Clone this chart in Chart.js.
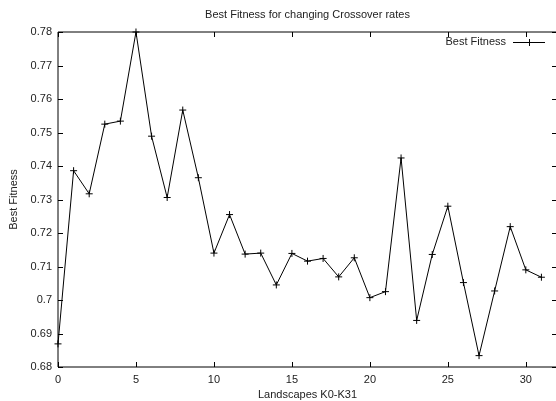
<!DOCTYPE html>
<html><head><meta charset="utf-8">
<script src="https://cdn.jsdelivr.net/npm/chart.js@4/dist/chart.umd.min.js"></script>
<style>html,body{margin:0;padding:0;overflow:hidden;background:#fff;width:556px;height:401px}canvas{display:block}</style>
</head><body>
<canvas id="c" width="562" height="401"></canvas>
<script>
const TITLE = 'Best Fitness for changing Crossover rates';
const X_TITLE = 'Landscapes K0-K31';
const Y_TITLE = 'Best Fitness';
const SERIES_NAME = 'Best Fitness';
const landscapes = [0,1,2,3,4,5,6,7,8,9,10,11,12,13,14,15,16,17,18,19,20,21,22,23,24,25,26,27,28,29,30,31];
const bestFitness = [0.6869,0.7386,0.7317,0.7525,0.7534,0.7800,0.7489,0.7306,0.7567,0.7365,
                     0.7140,0.7255,0.7137,0.7140,0.7045,0.7139,0.7116,0.7124,0.7069,0.7126,
                     0.7007,0.7025,0.7424,0.6939,0.7136,0.7280,0.7052,0.6834,0.7027,0.7219,
                     0.7090,0.7068];
const xTicks = [0,5,10,15,20,25,30];
const yTicks = [0.68,0.69,0.70,0.71,0.72,0.73,0.74,0.75,0.76,0.77,0.78];

const FONT = "'Liberation Sans', Arial, sans-serif";
const TEXT = '#222';

const gnuplotDecor = {
  id: 'gnuplotDecor',
  afterDraw(chart) {
    const ctx = chart.ctx, a = chart.chartArea;
    const xs = chart.scales.x, ys = chart.scales.y;
    ctx.save();
    ctx.strokeStyle = '#000';
    ctx.lineWidth = 1;
    const T = 5;
    ctx.beginPath();
    // frame
    ctx.rect(a.left, a.top, a.right - a.left, a.bottom - a.top);
    xTicks.forEach(v => {
      const p = Math.round(xs.getPixelForValue(v)) + 0.5;
      ctx.moveTo(p, a.bottom); ctx.lineTo(p, a.bottom - T);
      ctx.moveTo(p, a.top); ctx.lineTo(p, a.top + T);
    });
    yTicks.forEach(v => {
      const p = Math.round(ys.getPixelForValue(v)) + 0.5;
      ctx.moveTo(a.left, p); ctx.lineTo(a.left + T, p);
      ctx.moveTo(a.right, p); ctx.lineTo(a.right - T, p);
    });
    ctx.stroke();
    // texts
    ctx.fillStyle = TEXT;
    ctx.font = '11px ' + FONT;
    ctx.textAlign = 'center';
    ctx.textBaseline = 'middle';
    const cx = (a.left + a.right) / 2;
    ctx.fillText(TITLE, cx, 15);
    ctx.fillText(X_TITLE, cx, 395);
    ctx.save();
    ctx.translate(14, (a.top + a.bottom) / 2);
    ctx.rotate(-Math.PI / 2);
    ctx.fillText(Y_TITLE, 0, 0);
    ctx.restore();
    // legend
    ctx.textAlign = 'right';
    ctx.fillText(SERIES_NAME, 506, 42);
    ctx.beginPath();
    ctx.moveTo(513, 42.5); ctx.lineTo(545, 42.5);
    ctx.moveTo(526, 42.5); ctx.lineTo(532, 42.5);
    ctx.moveTo(529.5, 39); ctx.lineTo(529.5, 46);
    ctx.stroke();
    ctx.restore();
  }
};

new Chart(document.getElementById('c'), {
  type: 'line',
  data: {
    datasets: [{
      label: SERIES_NAME,
      data: landscapes.map((x, i) => ({x: x, y: bestFitness[i]})),
      borderColor: '#000',
      backgroundColor: '#000',
      borderWidth: 1,
      pointStyle: 'cross',
      pointRadius: 3.5,
      pointBorderWidth: 1,
      pointBorderColor: '#000',
      tension: 0,
      clip: false
    }]
  },
  options: {
    responsive: false,
    animation: false,
    events: [],
    layout: { padding: { top: 32, right: 4, left: 0, bottom: 0 } },
    plugins: { legend: { display: false }, title: { display: false }, tooltip: { enabled: false } },
    scales: {
      x: {
        type: 'linear', min: 0, max: 32,
        afterFit(s) { s.height = 34; },
        afterBuildTicks(s) { s.ticks = xTicks.map(v => ({value: v})); },
        grid: { drawOnChartArea: false, drawTicks: false },
        border: { display: false },
        ticks: { color: TEXT, font: { family: FONT, size: 11 }, padding: 6, maxRotation: 0, autoSkip: false }
      },
      y: {
        type: 'linear', min: 0.68, max: 0.78,
        afterFit(s) { s.width = 58; },
        afterBuildTicks(s) { s.ticks = yTicks.map(v => ({value: v})); },
        grid: { drawOnChartArea: false, drawTicks: false },
        border: { display: false },
        ticks: { color: TEXT, font: { family: FONT, size: 11 }, padding: 6,
          callback: v => String(parseFloat(Number(v).toFixed(2))) }
      }
    }
  },
  plugins: [gnuplotDecor]
});
</script>
</body></html>
